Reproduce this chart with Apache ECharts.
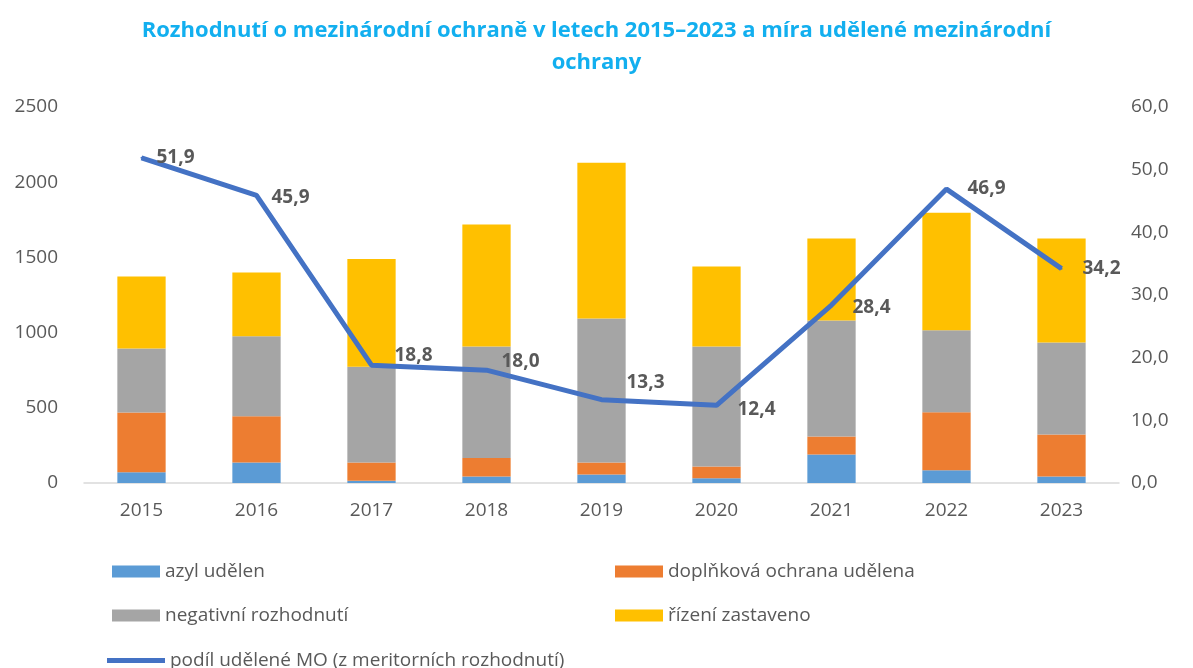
<!DOCTYPE html>
<html>
<head>
<meta charset="utf-8">
<script src="https://cdn.jsdelivr.net/npm/echarts@6/dist/echarts.min.js"></script>
<style>
html,body{margin:0;padding:0;background:#fff;}
#chart{width:1193px;height:668px;}
</style>
</head>
<body>
<div id="chart"></div>
<script>
//roky
var years = ['2015','2016','2017','2018','2019','2020','2021','2022','2023'];
//rozhodnutí (počty)
var azyl = [71, 137, 15, 44, 57, 31, 190, 84, 44];
var doplnkova = [397, 307, 122, 122, 80, 79, 119, 386, 278];
var negativni = [426, 532, 636, 741, 956, 797, 771, 546, 612];
var zastaveno = [479, 424, 717, 811, 1037, 533, 545, 781, 691];
//podíl udělené MO v %
var podil = [51.9, 45.9, 18.8, 18.0, 13.3, 12.4, 28.4, 46.9, 34.2];

var names = ['azyl udělen', 'doplňková ochrana udělena', 'negativní rozhodnutí', 'řízení zastaveno',
    'podíl udělené MO (z meritorních rozhodnutí)'];
var colors = ['#5B9BD5', '#ED7D31', '#A5A5A5', '#FFC000', '#4472C4'];
//posun popisků čáry (px)
var labelShift = [[0, 0], [0, 2], [8, -10], [0, -9], [10, -17], [6, 4], [6, 3], [6, 0], [6, 0]];

var chart = echarts.init(document.getElementById('chart'));

var fontFam = '"Open Sans", "Noto Sans", sans-serif';
var gray = '#595959';

function legendItem(name, left, top, isLine) {
    return {
        data: [name],
        left: left,
        top: top,
        itemWidth: isLine ? 58 : 48,
        itemHeight: isLine ? 5 : 12,
        itemGap: 4,
        icon: 'rect',
        textStyle: {color: gray, fontSize: 19, fontFamily: fontFam}
    };
}

function barSeries(i, data) {
    return {
        name: names[i],
        type: 'bar',
        stack: 'r',
        barWidth: '42%',
        itemStyle: {color: colors[i]},
        data: data
    };
}

function cz(v) {
    return v.toFixed(1).replace('.', ',');
}

option = {
    backgroundColor: '#fff',
    animation: false,
    color: colors,
    title: {
        text: 'Rozhodnutí o mezinárodní ochraně v letech 2015–2023 a míra udělené mezinárodní\nochrany',
        left: 'center',
        top: 10,
        textStyle: {
            color: '#12AFEF',
            fontSize: 22,
            fontWeight: 'bold',
            fontFamily: fontFam,
            lineHeight: 32
        }
    },
    legend: [
        legendItem(names[0], 107, 557, false),
        legendItem(names[1], 610, 557, false),
        legendItem(names[2], 107, 601, false),
        legendItem(names[3], 610, 601, false),
        legendItem(names[4], 102, 646, true)
    ],
    grid: {
        left: 84,
        right: 74,
        top: 107,
        bottom: 185
    },
    xAxis: [{
        type: 'category',
        data: years,
        axisTick: {show: false},
        axisLine: {lineStyle: {color: '#D9D9D9', width: 1.5}},
        axisLabel: {color: gray, fontSize: 19, fontFamily: fontFam, margin: 18}
    }],
    yAxis: [{
        type: 'value',
        min: 0,
        max: 2500,
        interval: 500,
        splitLine: {show: false},
        axisLabel: {
            color: gray, fontSize: 19, fontFamily: fontFam, margin: 26,
            formatter: function (v) { return String(v); }
        }
    }, {
        type: 'value',
        min: 0,
        max: 60,
        interval: 10,
        splitLine: {show: false},
        axisLabel: {
            color: gray, fontSize: 19, fontFamily: fontFam, margin: 12,
            formatter: function (v) { return cz(v); }
        }
    }],
    series: [
        barSeries(0, azyl),
        barSeries(1, doplnkova),
        barSeries(2, negativni),
        barSeries(3, zastaveno),
        {
            name: names[4],
            type: 'line',
            yAxisIndex: 1,
            symbol: 'circle',
            symbolSize: 2,
            showSymbol: true,
            z: 5,
            lineStyle: {color: colors[4], width: 5},
            itemStyle: {color: colors[4]},
            label: {
                show: true,
                position: 'right',
                distance: 14,
                color: gray,
                fontSize: 19,
                fontWeight: 'bold',
                fontFamily: fontFam,
                formatter: function (p) { return cz(p.value); }
            },
            labelLayout: function (p) {
                var s = labelShift[p.dataIndex] || [0, 0];
                return {dx: s[0], dy: s[1], hideOverlap: false};
            },
            data: podil
        }
    ]
};

chart.setOption(option);
</script>
</body>
</html>
